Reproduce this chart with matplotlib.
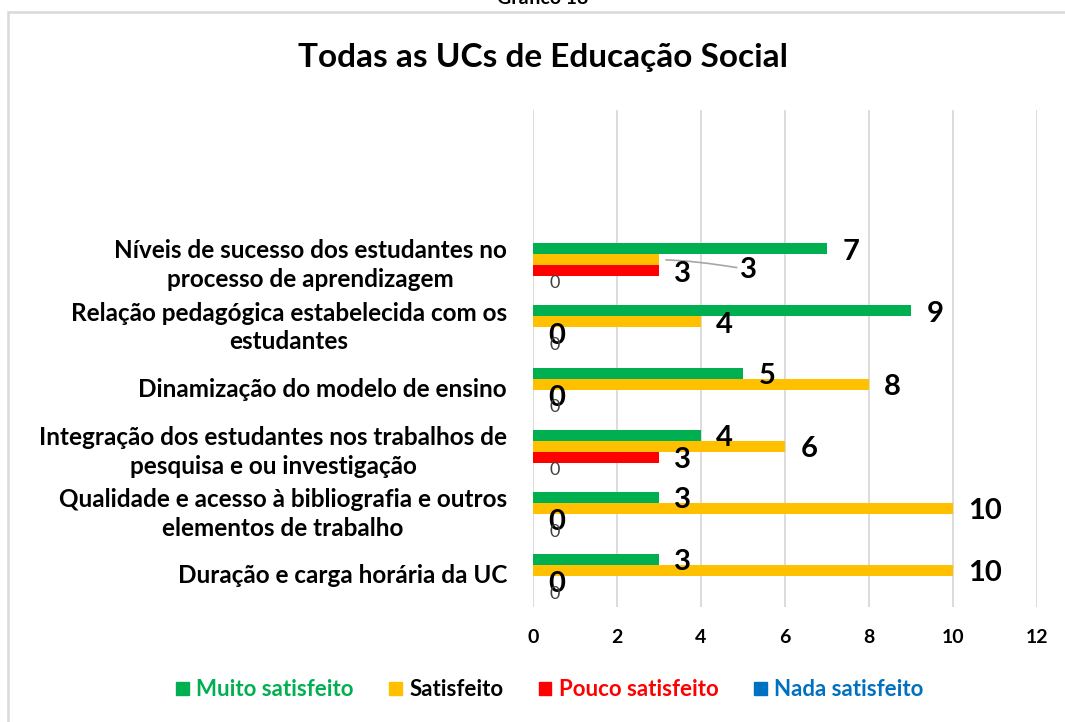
import matplotlib
matplotlib.use('Agg')
import matplotlib.pyplot as plt
import matplotlib.patches as mpatches
import matplotlib.transforms as mtransforms
import numpy as np

plt.rcParams['font.family'] = ['Lato', 'DejaVu Sans']

# ── Data ──────────────────────────────────────────────────────
categories = [
    "Níveis de sucesso dos estudantes no\nprocesso de aprendizagem",
    "Relação pedagógica estabelecida com os\nestudantes",
    "Dinamização do modelo de ensino",
    "Integração dos estudantes nos trabalhos de\npesquisa e ou investigação",
    "Qualidade e acesso à bibliografia e outros\nelementos de trabalho",
    "Duração e carga horária da UC",
]
muito = [7, 9, 5, 4, 3, 3]
satisfeito = [3, 4, 8, 6, 10, 10]
pouco = [3, 0, 0, 3, 0, 0]
nada = [0, 0, 0, 0, 0, 0]

series_names = ["Muito satisfeito", "Satisfeito", "Pouco satisfeito", "Nada satisfeito"]
series_colors = ["#00B050", "#FFC000", "#FF0000", "#0070C0"]
legend_text_colors = ["#00B050", "#000000", "#FF0000", "#0070C0"]
x_ticks = [0, 2, 4, 6, 8, 10, 12]

# ── Figure ────────────────────────────────────────────────────
fig = plt.figure(figsize=(10.65, 7.22), dpi=100)

# chart border + clipped caption above it
fig.patches.append(mpatches.Rectangle((8 / 1065, -0.05), 1.2, 1 - 12 / 722 + 0.05,
                                      transform=fig.transFigure, fill=False,
                                      edgecolor='#D9D9D9', linewidth=1.8))
fig.text(543 / 1065, 1 + 1 / 722, "Gráfico 18", ha='center', va='center',
         fontsize=14, fontweight='bold')

ax = fig.add_axes([533 / 1065, 1 - 607 / 722, 504 / 1065, 497 / 722])

pos = np.arange(len(categories)) + 2  # two empty slots on top
h = 0.177
all_series = [muito, satisfeito, pouco, nada]
offsets = [-1.5 * h, -0.5 * h, 0.5 * h, 1.5 * h]

for vals, col, off in zip(all_series, series_colors, offsets):
    ax.barh(pos + off, vals, height=h, color=col, edgecolor='none', zorder=3)

# value labels
for si, (vals, off) in enumerate(zip(all_series, offsets)):
    for ci, v in enumerate(vals):
        y = pos[ci] + off
        if si == 3:
            ax.annotate(f"{v}", (v, y), xytext=(12, -1), textcoords='offset points',
                        ha='left', va='center', fontsize=13, color='#404040', zorder=4)
            continue
        if si == 1 and ci == 0:
            ax.annotate(f"{v}", (v, y), xytext=(58, -7), textcoords='offset points',
                        ha='left', va='center', fontsize=21, fontweight='bold',
                        arrowprops=dict(arrowstyle='-', color='#A6A6A6', lw=1.2,
                                        shrinkA=0, shrinkB=5,
                                        connectionstyle='angle3,angleA=-10,angleB=0'),
                        zorder=4)
            continue
        ax.annotate(f"{v}", (v, y), xytext=(11, -2), textcoords='offset points',
                    ha='left', va='center', fontsize=21, fontweight='bold', zorder=4)

ax.set_xlim(0, 12)
ax.set_ylim(7.5, -0.5)
ax.set_xticks(x_ticks)
ax.set_xticklabels([str(t) for t in x_ticks], fontsize=14, fontweight='bold')
ax.tick_params(axis='x', length=0, pad=16)
ax.set_yticks([])
ax.grid(axis='x', color='#D9D9D9', linewidth=1.3, zorder=0)
for s in ax.spines.values():
    s.set_visible(False)

trans = mtransforms.blended_transform_factory(ax.transAxes, ax.transData)
for p, lab in zip(pos, categories):
    ax.text(-26 / 504, p, lab, transform=trans, ha='right', va='center',
            multialignment='center', fontsize=17.5, fontweight='bold', linespacing=1.3)

fig.text(543 / 1065, 1 - 57 / 722, "Todas as UCs de Educação Social", ha='center',
         va='center', fontsize=24, fontweight='bold')

handles = [mpatches.Patch(color=c, label=n) for c, n in zip(series_colors, series_names)]
leg = fig.legend(handles=handles, loc='center', bbox_to_anchor=(550 / 1065, 1 - 690 / 722),
                 ncol=4, frameon=False, handlelength=0.55, handleheight=0.55,
                 handletextpad=0.35, columnspacing=1.6,
                 prop={'size': 16, 'weight': 'bold'})
for t, c in zip(leg.get_texts(), legend_text_colors):
    t.set_color(c)

plt.savefig("out.png", dpi=100)
